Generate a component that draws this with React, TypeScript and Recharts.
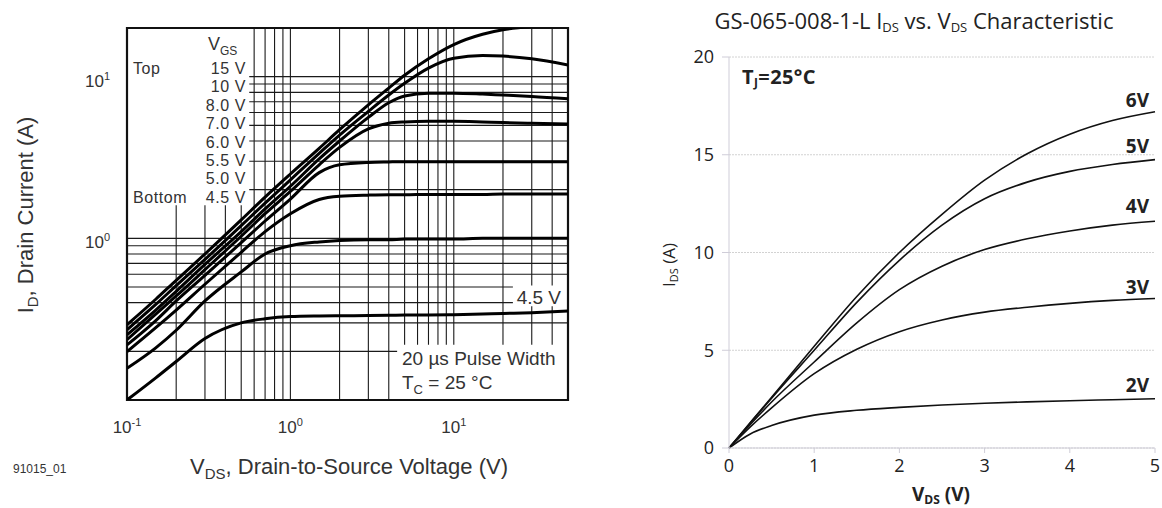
import React from "react";
import {
  LineChart, Line, XAxis, YAxis, CartesianGrid, ReferenceArea, Customized,
} from "recharts";

// ---- left: typical output characteristics (log-log) ----
const VDS_LOG = [0.1, 0.15, 0.2, 0.3, 0.5, 0.7, 1, 1.5, 2, 3, 4, 5, 7, 10, 15, 20, 30, 50];
const ID_15V = [0.292, 0.42, 0.55, 0.8, 1.3, 1.8, 2.5, 3.6, 4.7, 6.7, 8.5, 10.2, 12.9, 15.8, 18.3, 19.5, 20.4, null];
const ID_10V = [0.272, 0.39, 0.51, 0.74, 1.2, 1.65, 2.3, 3.35, 4.35, 6.1, 7.7, 9.1, 11.3, 13.0, 13.5, 13.4, 12.9, 11.8];
const ID_8V = [0.253, 0.36, 0.47, 0.69, 1.1, 1.52, 2.1, 3.1, 4.0, 5.6, 6.9, 7.6, 7.9, 7.9, 7.8, 7.7, 7.55, 7.3];
const ID_7V = [0.236, 0.34, 0.44, 0.64, 1.03, 1.42, 1.95, 2.85, 3.65, 4.75, 5.15, 5.25, 5.3, 5.3, 5.25, 5.2, 5.15, 5.1];
const ID_6V = [0.219, 0.31, 0.41, 0.59, 0.94, 1.28, 1.75, 2.55, 2.85, 2.95, 2.97, 2.98, 2.98, 2.98, 2.98, 2.98, 2.98, 2.98];
const ID_55V = [0.199, 0.28, 0.36, 0.52, 0.82, 1.1, 1.42, 1.74, 1.82, 1.85, 1.86, 1.86, 1.87, 1.87, 1.87, 1.88, 1.88, 1.88];
const ID_5V = [0.157, 0.21, 0.27, 0.41, 0.62, 0.8, 0.9, 0.95, 0.97, 0.98, 0.98, 0.99, 0.99, 0.99, 1.0, 1.0, 1.0, 1.0];
const ID_45V = [0.1, 0.137, 0.173, 0.24, 0.3, 0.318, 0.328, 0.331, 0.332, 0.333, 0.334, 0.335, 0.336, 0.337, 0.34, 0.343, 0.347, 0.355];
const LOG_SERIES = [ID_15V, ID_10V, ID_8V, ID_7V, ID_6V, ID_55V, ID_5V, ID_45V];

const GRID_X = [0.2, 0.3, 0.4, 0.5, 0.6, 0.7, 0.8, 0.9, 1, 2, 3, 4, 5, 6, 7, 8, 9, 10, 20, 30, 40];
const GRID_Y = [0.2, 0.3, 0.4, 0.5, 0.6, 0.7, 0.8, 0.9, 1, 2, 3, 4, 5, 6, 7, 8, 9, 10];
const X_TICKS_LOG = [0.1, 1, 10];
const Y_TICKS_LOG = [1, 10];
const VGS_LABELS = ["15 V", "10 V", "8.0 V", "7.0 V", "6.0 V", "5.5 V", "5.0 V", "4.5 V"];

// ---- right: GS-065-008-1-L ----
const VDS_LIN = [0, 0.25, 0.5, 1, 1.5, 2, 2.5, 3, 3.5, 4, 4.5, 5];
const IDS_6V = [0, 1.3, 2.6, 5.2, 7.75, 10.0, 11.95, 13.7, 15.05, 16.05, 16.75, 17.2];
const IDS_5V = [0, 1.28, 2.55, 5.0, 7.45, 9.6, 11.4, 12.75, 13.6, 14.15, 14.5, 14.75];
const IDS_4V = [0, 1.2, 2.35, 4.4, 6.4, 8.1, 9.3, 10.15, 10.7, 11.1, 11.4, 11.6];
const IDS_3V = [0, 1.08, 2.05, 3.8, 5.05, 5.95, 6.55, 6.95, 7.2, 7.4, 7.55, 7.65];
const IDS_2V = [0, 0.72, 1.15, 1.68, 1.93, 2.08, 2.2, 2.29, 2.36, 2.42, 2.47, 2.52];
const LIN_SERIES = [IDS_6V, IDS_5V, IDS_4V, IDS_3V, IDS_2V];
const LIN_LABELS = ["6V", "5V", "4V", "3V", "2V"];
const X_TICKS_LIN = [0, 1, 2, 3, 4, 5];
const Y_TICKS_LIN = [0, 5, 10, 15, 20];

const logRows = VDS_LOG.map((v, i) => {
  const row: Record<string, number | null> = { v };
  LOG_SERIES.forEach((s, k) => (row[`s${k}`] = s[i]));
  return row;
});
const linRows = VDS_LIN.map((v, i) => {
  const row: Record<string, number> = { v };
  LIN_SERIES.forEach((s, k) => (row[`s${k}`] = s[i]));
  return row;
});

const ARIAL = "'Liberation Sans', Arial, sans-serif";
const MYRIAD = "'Open Sans', 'Noto Sans', sans-serif";

function PowTickX({ x, y, payload }: any) {
  const exp = Math.round(Math.log10(payload.value));
  return (
    <text x={x} y={y + 31} textAnchor="middle" fontFamily={ARIAL} fontSize={17} fill="#333">
      10<tspan dy={-7} fontSize={11}>{exp}</tspan>
    </text>
  );
}

function PowTickY({ x, y, payload }: any) {
  const exp = Math.round(Math.log10(payload.value));
  return (
    <text x={x} y={y + 10} textAnchor="end" fontFamily={ARIAL} fontSize={17} fill="#333">
      10<tspan dy={-7} fontSize={11}>{exp}</tspan>
    </text>
  );
}

// text block of the left chart, rendered through the frame's label layer
function LeftNotes() {
  const t = { fontFamily: ARIAL, fill: "#333" };
  const row = (i: number) => 74 + i * 18.4;
  return (
    <g>
      <text x={208} y={50} fontSize={18} {...t}>V<tspan dy={5} fontSize={12}>GS</tspan></text>
      <text x={133} y={row(0)} fontSize={16} letterSpacing={0.6} {...t}>Top</text>
      <text x={133} y={row(7)} fontSize={16} letterSpacing={0.6} {...t}>Bottom</text>
      {VGS_LABELS.map((s, i) => (
        <text key={s} x={246} y={row(i)} textAnchor="end" fontSize={16} letterSpacing={0.6} {...t}>{s}</text>
      ))}
      <text x={561} y={304} textAnchor="end" fontSize={19} {...t}>4.5 V</text>
      <text x={402} y={365} fontSize={19} {...t}>20 µs Pulse Width</text>
      <text x={402} y={389} fontSize={19} {...t}>T<tspan dy={5} fontSize={13}>C</tspan><tspan dy={-5}> = 25 °C</tspan></text>
    </g>
  );
}

function LeftTitles() {
  return (
    <g fontFamily={ARIAL} fill="#333">
      <text x={349} y={474} textAnchor="middle" fontSize={22}>
        V<tspan dy={5} fontSize={15}>DS</tspan><tspan dy={-5}>, Drain-to-Source Voltage (V)</tspan>
      </text>
      <text x={13} y={473} fontSize={12}>91015_01</text>
      <text transform="translate(33,215) rotate(-90)" textAnchor="middle" fontSize={22}>
        I<tspan dy={5} fontSize={15}>D</tspan><tspan dy={-5}>, Drain Current (A)</tspan>
      </text>
    </g>
  );
}

function RightNotes() {
  const lab = [107, 153, 213, 294, 392];
  return (
    <g fontFamily={MYRIAD} fill="#222">
      <text x={314} y={29} textAnchor="middle" fontSize={22}>
        GS-065-008-1-L I<tspan dy={3} fontSize={13}>DS</tspan><tspan dy={-3}> vs. V</tspan>
        <tspan dy={3} fontSize={13}>DS</tspan><tspan dy={-3}> Characteristic</tspan>
      </text>
      <text x={142} y={84} fontSize={20} fontWeight="bold" letterSpacing={0.4}>
        T<tspan dy={3} fontSize={12}>J</tspan><tspan dy={-3}>=25°C</tspan>
      </text>
      {LIN_LABELS.map((s, i) => (
        <text key={s} x={549} y={lab[i]} textAnchor="end" fontSize={19} fontWeight="bold">{s}</text>
      ))}
      <text x={341} y={501} textAnchor="middle" fontSize={19} fontWeight="bold">
        V<tspan dy={3} fontSize={12}>DS</tspan><tspan dy={-3}> (V)</tspan>
      </text>
      <text transform="translate(75,265) rotate(-90)" textAnchor="middle" fontSize={17}>
        I<tspan dy={3} fontSize={11}>DS</tspan><tspan dy={-3}> (A)</tspan>
      </text>
    </g>
  );
}

export default function App() {
  return (
    <div style={{ position: "absolute", left: 0, top: 0, width: 1162, height: 508, background: "#fff" }}>
      <div style={{ position: "absolute", left: 0, top: 0 }}>
        <LineChart width={600} height={508} data={logRows} margin={{ top: 28, right: 32, bottom: 78, left: 0 }}>
          <CartesianGrid stroke="#1a1a1a" strokeWidth={1.1} verticalValues={GRID_X} horizontalValues={GRID_Y} />
          <XAxis
            dataKey="v" type="number" scale="log" domain={[0.1, 50]} allowDataOverflow
            ticks={X_TICKS_LOG} tick={<PowTickX />} tickLine={false} axisLine={false}
            tickSize={0} height={30} interval={0}
          />
          <YAxis
            type="number" scale="log" domain={[0.1, 20]} allowDataOverflow
            ticks={Y_TICKS_LOG} tick={<PowTickY />} tickLine={false} axisLine={false}
            tickSize={0} tickMargin={17} width={127} interval={0}
          />
          <ReferenceArea x1={0.1} x2={0.56} y1={1.6} y2={20} fill="#fff" fillOpacity={1} stroke="none" />
          <ReferenceArea x1={4.5} x2={50} y1={0.1} y2={0.22} fill="#fff" fillOpacity={1} stroke="none" />
          <ReferenceArea x1={23} x2={50} y1={0.38} y2={0.51} fill="#fff" fillOpacity={1} stroke="none" />
          {LOG_SERIES.map((_, k) => (
            <Line
              key={k} dataKey={`s${k}`} type="monotone" stroke="#000" strokeWidth={3}
              dot={false} isAnimationActive={false}
            />
          ))}
          <ReferenceArea
            x1={0.1} x2={50} y1={0.1} y2={20} fill="none" stroke="#111" strokeWidth={2.2}
            label={<LeftNotes />}
          />
          <Customized component={LeftTitles} />
        </LineChart>
      </div>
      <div style={{ position: "absolute", left: 600, top: 0 }}>
        <LineChart width={562} height={508} data={linRows} margin={{ top: 57, right: 7, bottom: 30, left: 0 }}>
          <CartesianGrid vertical={false} stroke="#d2d2d2" strokeDasharray="2 1" />
          <XAxis
            dataKey="v" type="number" domain={[0, 5]} ticks={X_TICKS_LIN}
            stroke="#cfcdd8" tickSize={5} tickMargin={6} height={30}
            tick={{ fill: "#222", fontSize: 18, fontFamily: MYRIAD }}
          />
          <YAxis
            type="number" domain={[0, 20]} ticks={Y_TICKS_LIN} width={129}
            stroke="#cfcdd8" tickSize={7} tickMargin={8}
            tick={{ fill: "#222", fontSize: 18, fontFamily: MYRIAD }}
          />
          {LIN_SERIES.map((_, k) => (
            <Line
              key={k} dataKey={`s${k}`} type="monotone" stroke="#111" strokeWidth={1.6}
              dot={false} isAnimationActive={false}
            />
          ))}
          <Customized component={RightNotes} />
        </LineChart>
      </div>
    </div>
  );
}
